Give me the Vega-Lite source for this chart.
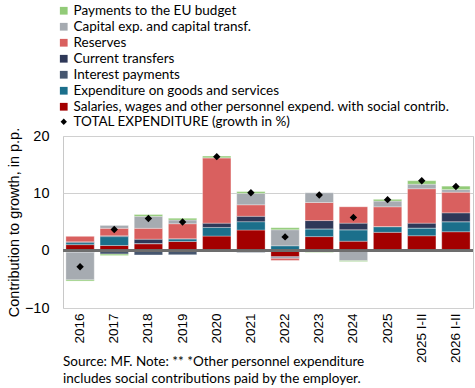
{
  "$schema": "https://vega.github.io/schema/vega-lite/v6.json",
  "autosize": {"type": "none"},
  "width": 410,
  "height": 172,
  "padding": {"left": 63, "top": 136, "right": 2, "bottom": 80},
  "background": "white",
  "datasets": {
    "bars": [
      {"year": "2016", "component": "Salaries, wages and other personnel expend. with social contrib.", "value": 1.05},
      {"year": "2016", "component": "Expenditure on goods and services", "value": 0.35},
      {"year": "2016", "component": "Interest payments", "value": -0.3},
      {"year": "2016", "component": "Current transfers", "value": 0.15},
      {"year": "2016", "component": "Reserves", "value": 0.95},
      {"year": "2016", "component": "Capital exp. and capital transf.", "value": -4.8},
      {"year": "2016", "component": "Payments to the EU budget", "value": -0.2},
      {"year": "2017", "component": "Salaries, wages and other personnel expend. with social contrib.", "value": 0.9},
      {"year": "2017", "component": "Expenditure on goods and services", "value": 1.55},
      {"year": "2017", "component": "Interest payments", "value": -0.6},
      {"year": "2017", "component": "Current transfers", "value": 0.15},
      {"year": "2017", "component": "Reserves", "value": 1.3},
      {"year": "2017", "component": "Capital exp. and capital transf.", "value": 0.5},
      {"year": "2017", "component": "Payments to the EU budget", "value": -0.25},
      {"year": "2018", "component": "Salaries, wages and other personnel expend. with social contrib.", "value": 1.2},
      {"year": "2018", "component": "Expenditure on goods and services", "value": 0.05},
      {"year": "2018", "component": "Interest payments", "value": -0.75},
      {"year": "2018", "component": "Current transfers", "value": 0.75},
      {"year": "2018", "component": "Reserves", "value": 1.9},
      {"year": "2018", "component": "Capital exp. and capital transf.", "value": 2.1},
      {"year": "2018", "component": "Payments to the EU budget", "value": 0.3},
      {"year": "2019", "component": "Salaries, wages and other personnel expend. with social contrib.", "value": 1.6},
      {"year": "2019", "component": "Expenditure on goods and services", "value": 0.45},
      {"year": "2019", "component": "Interest payments", "value": -0.7},
      {"year": "2019", "component": "Current transfers", "value": 0.05},
      {"year": "2019", "component": "Reserves", "value": 2.6},
      {"year": "2019", "component": "Capital exp. and capital transf.", "value": 0.65},
      {"year": "2019", "component": "Payments to the EU budget", "value": 0.3},
      {"year": "2020", "component": "Salaries, wages and other personnel expend. with social contrib.", "value": 2.55},
      {"year": "2020", "component": "Expenditure on goods and services", "value": 1.5},
      {"year": "2020", "component": "Interest payments", "value": -0.1},
      {"year": "2020", "component": "Current transfers", "value": 0.75},
      {"year": "2020", "component": "Reserves", "value": 11.4},
      {"year": "2020", "component": "Capital exp. and capital transf.", "value": 0.0},
      {"year": "2020", "component": "Payments to the EU budget", "value": 0.3},
      {"year": "2021", "component": "Salaries, wages and other personnel expend. with social contrib.", "value": 3.6},
      {"year": "2021", "component": "Expenditure on goods and services", "value": 1.45},
      {"year": "2021", "component": "Interest payments", "value": -0.3},
      {"year": "2021", "component": "Current transfers", "value": 0.95},
      {"year": "2021", "component": "Reserves", "value": 2.0},
      {"year": "2021", "component": "Capital exp. and capital transf.", "value": 2.0},
      {"year": "2021", "component": "Payments to the EU budget", "value": 0.3},
      {"year": "2022", "component": "Salaries, wages and other personnel expend. with social contrib.", "value": -1.05},
      {"year": "2022", "component": "Expenditure on goods and services", "value": 0.85},
      {"year": "2022", "component": "Interest payments", "value": -0.15},
      {"year": "2022", "component": "Current transfers", "value": -0.15},
      {"year": "2022", "component": "Reserves", "value": -0.35},
      {"year": "2022", "component": "Capital exp. and capital transf.", "value": 2.8},
      {"year": "2022", "component": "Payments to the EU budget", "value": 0.35},
      {"year": "2023", "component": "Salaries, wages and other personnel expend. with social contrib.", "value": 2.45},
      {"year": "2023", "component": "Expenditure on goods and services", "value": 1.35},
      {"year": "2023", "component": "Interest payments", "value": 0.0},
      {"year": "2023", "component": "Current transfers", "value": 1.45},
      {"year": "2023", "component": "Reserves", "value": 3.15},
      {"year": "2023", "component": "Capital exp. and capital transf.", "value": 1.7},
      {"year": "2023", "component": "Payments to the EU budget", "value": -0.3},
      {"year": "2024", "component": "Salaries, wages and other personnel expend. with social contrib.", "value": 1.65},
      {"year": "2024", "component": "Expenditure on goods and services", "value": 2.0},
      {"year": "2024", "component": "Interest payments", "value": 0.0},
      {"year": "2024", "component": "Current transfers", "value": 1.15},
      {"year": "2024", "component": "Reserves", "value": 2.85},
      {"year": "2024", "component": "Capital exp. and capital transf.", "value": -1.75},
      {"year": "2024", "component": "Payments to the EU budget", "value": -0.15},
      {"year": "2025", "component": "Salaries, wages and other personnel expend. with social contrib.", "value": 3.2},
      {"year": "2025", "component": "Expenditure on goods and services", "value": 1.0},
      {"year": "2025", "component": "Interest payments", "value": 0.0},
      {"year": "2025", "component": "Current transfers", "value": 0.0},
      {"year": "2025", "component": "Reserves", "value": 3.45},
      {"year": "2025", "component": "Capital exp. and capital transf.", "value": 1.0},
      {"year": "2025", "component": "Payments to the EU budget", "value": 0.3},
      {"year": "2025 I-II", "component": "Salaries, wages and other personnel expend. with social contrib.", "value": 2.6},
      {"year": "2025 I-II", "component": "Expenditure on goods and services", "value": 1.35},
      {"year": "2025 I-II", "component": "Interest payments", "value": 0.0},
      {"year": "2025 I-II", "component": "Current transfers", "value": 0.85},
      {"year": "2025 I-II", "component": "Reserves", "value": 6.0},
      {"year": "2025 I-II", "component": "Capital exp. and capital transf.", "value": 0.8},
      {"year": "2025 I-II", "component": "Payments to the EU budget", "value": 0.6},
      {"year": "2026 I-II", "component": "Salaries, wages and other personnel expend. with social contrib.", "value": 3.3},
      {"year": "2026 I-II", "component": "Expenditure on goods and services", "value": 1.75},
      {"year": "2026 I-II", "component": "Interest payments", "value": 0.0},
      {"year": "2026 I-II", "component": "Current transfers", "value": 1.55},
      {"year": "2026 I-II", "component": "Reserves", "value": 3.6},
      {"year": "2026 I-II", "component": "Capital exp. and capital transf.", "value": 0.45},
      {"year": "2026 I-II", "component": "Payments to the EU budget", "value": 0.6}
    ],
    "ranks": [
      {"component": "Salaries, wages and other personnel expend. with social contrib.", "rank": 1},
      {"component": "Expenditure on goods and services", "rank": 2},
      {"component": "Interest payments", "rank": 3},
      {"component": "Current transfers", "rank": 4},
      {"component": "Reserves", "rank": 5},
      {"component": "Capital exp. and capital transf.", "rank": 6},
      {"component": "Payments to the EU budget", "rank": 7}
    ],
    "totals": [
      {"year": "2016", "total": -2.8},
      {"year": "2017", "total": 3.7},
      {"year": "2018", "total": 5.6},
      {"year": "2019", "total": 5.0},
      {"year": "2020", "total": 16.4},
      {"year": "2021", "total": 10.1},
      {"year": "2022", "total": 2.4},
      {"year": "2023", "total": 9.7},
      {"year": "2024", "total": 5.8},
      {"year": "2025", "total": 8.9},
      {"year": "2025 I-II", "total": 12.2},
      {"year": "2026 I-II", "total": 11.2}
    ]
  },
  "layer": [
    {
      "data": {"name": "bars"},
      "transform": [
        {"lookup": "component", "from": {"data": {"name": "ranks"}, "key": "component", "fields": ["rank"]}}
      ],
      "mark": {"type": "bar", "stroke": "#ffffff", "strokeWidth": 0.5, "strokeOpacity": 0.6},
      "encoding": {
        "x": {"field": "year", "type": "nominal", "scale": {"paddingInner": 0.17, "paddingOuter": 0.085},
          "axis": {"title": null, "labelAngle": -90, "labelFontSize": 13.5, "labelFont": "Liberation Sans", "labelColor": "#000", "ticks": false, "domain": false, "labelPadding": 5}},
        "y": {"field": "value", "type": "quantitative", "aggregate": "sum", "stack": "zero",
          "scale": {"domain": [-10, 20], "nice": false},
          "axis": {"title": "Contribution to growth, in p.p.", "values": [-10, 0, 10, 20], "ticks": false, "domain": false,
            "labelFontSize": 14.5, "labelFont": "Liberation Sans", "labelColor": "#000", "labelPadding": 14,
            "titleFont": "Liberation Sans", "titleFontSize": 14.5, "titleFontWeight": "normal", "titleColor": "#000", "titlePadding": 3,
            "gridColor": "#D0D0D0", "gridWidth": 1}},
        "order": {"field": "rank", "type": "quantitative", "sort": "ascending"},
        "color": {"field": "component", "type": "nominal",
          "scale": {
            "domain": ["Payments to the EU budget", "Capital exp. and capital transf.", "Reserves", "Current transfers", "Interest payments", "Expenditure on goods and services", "Salaries, wages and other personnel expend. with social contrib."],
            "range": ["#92CB78", "#A6ABB1", "#D9605F", "#2E3858", "#46566F", "#1B6F8B", "#A30000"]
          },
          "legend": {"title": null, "orient": "none", "legendX": -6, "legendY": -132, "symbolType": "square", "symbolSize": 60, "symbolStrokeWidth": 0,
            "labelFont": "Lato", "labelFontSize": 13.5, "labelColor": "#000", "labelLimit": 500, "rowPadding": 1.0, "labelOffset": 3}}
      }
    },
    {
      "data": {"name": "totals"},
      "mark": {"type": "rule", "color": "#6E6E6E", "strokeWidth": 2},
      "encoding": {"y": {"datum": 0}}
    },
    {
      "data": {"name": "totals"},
      "mark": {"type": "point", "filled": true, "color": "#000", "size": 55, "opacity": 1},
      "encoding": {
        "x": {"field": "year", "type": "nominal"},
        "y": {"field": "total", "type": "quantitative"},
        "shape": {"datum": "TOTAL EXPENDITURE (growth in %)", "scale": {"range": ["diamond"]},
          "legend": {"title": null, "orient": "none", "legendX": -6, "legendY": -21, "symbolSize": 40, "symbolFillColor": "#000", "symbolStrokeColor": "#000",
            "labelFont": "Lato", "labelFontSize": 13.5, "labelColor": "#000", "labelLimit": 500, "labelOffset": 3}}
      }
    }
  ],
  "title": {
    "text": ["Source: MF. Note: ** *Other personnel expenditure", "includes social contributions paid by the employer."],
    "orient": "bottom", "anchor": "start", "frame": "group", "font": "Lato", "fontSize": 13.5, "fontWeight": "normal", "color": "#000", "lineHeight": 17, "offset": -8
  },
  "config": {
    "view": {"stroke": "#C8C8C8", "strokeWidth": 1},
    "axis": {"gridColor": "#D0D0D0"}
  }
}
